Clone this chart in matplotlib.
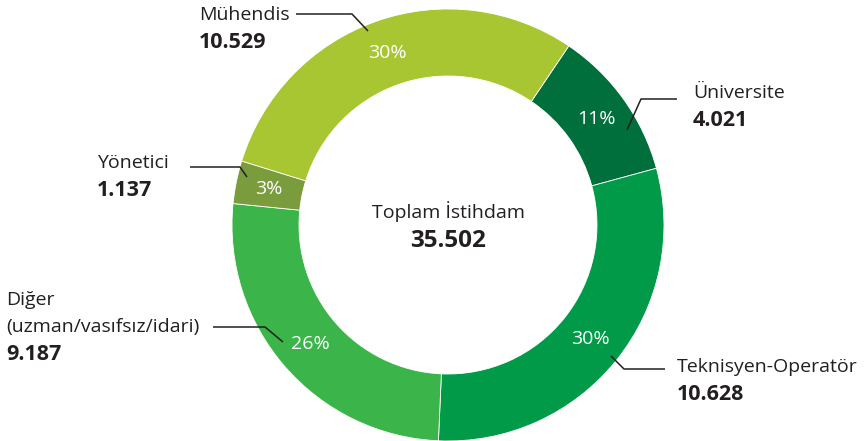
import matplotlib.pyplot as plt

# veriler
labels = ['Üniversite', 'Teknisyen-Operatör', 'Diğer\n(uzman/vasıfsız/idari)', 'Yönetici', 'Mühendis']
values = [4021, 10628, 9187, 1137, 10529]
value_labels = ['4.021', '10.628', '9.187', '1.137', '10.529']
colors = ['#006f3c', '#009a49', '#3bb54a', '#7a9c3c', '#a8c532']
total_label = '35.502'
center_title = 'Toplam İstihdam'

W, H = 867, 441
plt.rcParams['font.family'] = ['Open Sans', 'DejaVu Sans']
dark = '#231f20'

fig = plt.figure(figsize=(W / 100, H / 100), dpi=100)
ax = fig.add_axes([0, 0, 1, 1])

wedges, texts, autotexts = ax.pie(
    values, colors=colors, startangle=56, counterclock=False,
    center=(448, H - 225), radius=216, frame=True,
    autopct='%.0f%%', pctdistance=0.845,
    wedgeprops=dict(width=67, edgecolor='white', linewidth=0.6),
    textprops=dict(color='white', fontsize=14))

ax.set_xlim(0, W)
ax.set_ylim(0, H)
ax.set_aspect('equal')
ax.axis('off')

ax.text(448, H - 212, center_title, ha='center', va='center', fontsize=14, color=dark)
ax.text(448, H - 241, total_label, ha='center', va='center', fontsize=17.5,
        fontweight='bold', color=dark)

# etiket yerlesimi (piksel): leader cizgisi, metin konumu
layout = [
    ([(627, 130), (641, 99), (677, 99)], (693, 93)),
    ([(611, 356), (624, 369), (665, 369)], (677, 367)),
    ([(283, 342), (265, 327), (213, 327)], (6, 300)),
    ([(247, 177), (240, 167), (190, 167)], (97, 163)),
    ([(368, 31), (352, 14), (296, 14)], (199, 15)),
]

for lab, val, (pts, (tx, ty)) in zip(labels, value_labels, layout):
    xs = [p[0] for p in pts]
    ys = [H - p[1] for p in pts]
    ax.plot(xs, ys, color=dark, lw=1.1, solid_capstyle='butt')
    lines = lab.split('\n')
    for i, line in enumerate(lines):
        ax.text(tx, H - ty - 27 * i, line, ha='left', va='center', fontsize=14, color=dark)
    ax.text(tx, H - ty - 27 * len(lines), val, ha='left', va='center', fontsize=15.5,
            fontweight='bold', color=dark)

fig.savefig('out.png', dpi=100)
